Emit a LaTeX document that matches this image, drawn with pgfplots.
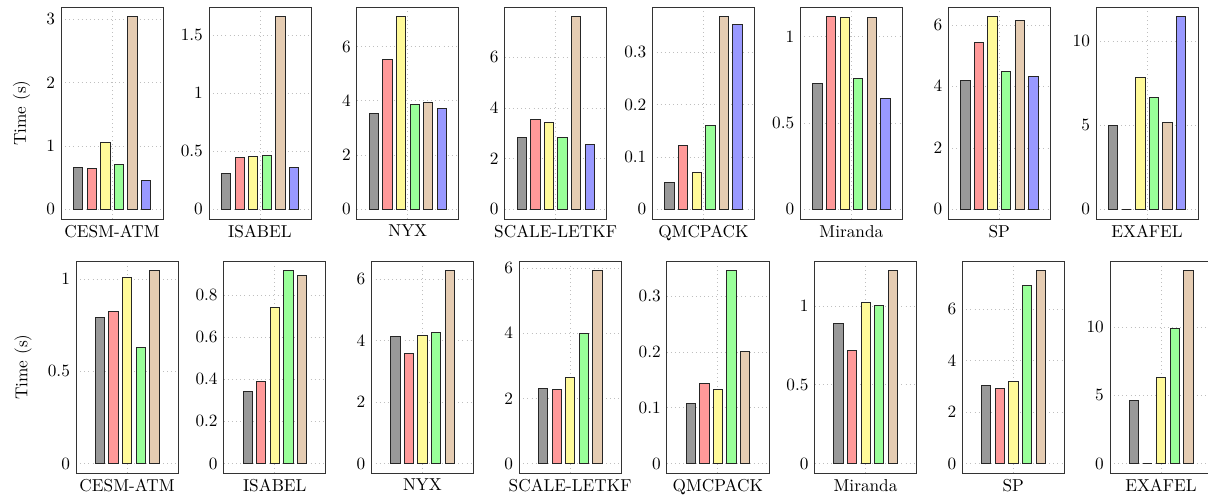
\documentclass[border=0pt]{standalone}
\usepackage{pgfplots}
\pgfplotsset{compat=1.18}
\pgfplotsset{
  panel/.style={
    scale only axis, width=59.2pt, height=123pt,
    anchor=north west,
    ybar=2.5pt, bar width=5.4pt,
    xmin=-1, xmax=1, xtick={0},
    enlargelimits=false,
    xmajorgrids, ymajorgrids,
    grid style={dotted, black!25},
    major tick length=0pt,
    axis line style={black!80},
    ylabel shift=2.5pt,
  },
}
\newcommand{\sixbars}[6]{%
  \addplot[fill=black!40, draw=black!85] coordinates {(0,#1)};
  \addplot[fill=red!40, draw=black!85] coordinates {(0,#2)};
  \addplot[fill=yellow!40, draw=black!85] coordinates {(0,#3)};
  \addplot[fill=green!40, draw=black!85] coordinates {(0,#4)};
  \addplot[fill=brown!40, draw=black!85] coordinates {(0,#5)};
  \addplot[fill=blue!40, draw=black!85] coordinates {(0,#6)};}
\newcommand{\fivebars}[5]{%
  \addplot[fill=black!40, draw=black!85] coordinates {(0,#1)};
  \addplot[fill=red!40, draw=black!85] coordinates {(0,#2)};
  \addplot[fill=yellow!40, draw=black!85] coordinates {(0,#3)};
  \addplot[fill=green!40, draw=black!85] coordinates {(0,#4)};
  \addplot[fill=brown!40, draw=black!85] coordinates {(0,#5)};}
\begin{document}
\begin{tikzpicture}
\useasboundingbox (0,0) rectangle (700.64pt,-288.84pt);
% ---------- top row ----------
\begin{axis}[panel, at={(35.38pt,-4.06pt)}, xticklabels={CESM-ATM},
  ymin=-0.152, ymax=3.192, ytick={0,1,2,3}, ylabel={Time (s)}]
\sixbars{0.671}{0.655}{1.064}{0.713}{3.04}{0.461}
\end{axis}
\begin{axis}[panel, at={(121.16pt,-4.06pt)}, xticklabels={ISABEL},
  ymin=-0.0829, ymax=1.740, ytick={0,0.5,1,1.5}]
\sixbars{0.306}{0.451}{0.457}{0.466}{1.657}{0.366}
\end{axis}
\begin{axis}[panel, at={(206.89pt,-4.06pt)}, xticklabels={NYX},
  ymin=-0.355, ymax=7.455, ytick={0,2,4,6}]
\sixbars{3.54}{5.53}{7.10}{3.88}{3.955}{3.71}
\end{axis}
\begin{axis}[panel, at={(292.67pt,-4.06pt)}, xticklabels={SCALE-LETKF},
  ymin=-0.38, ymax=7.98, ytick={0,2,4,6}]
\sixbars{2.83}{3.56}{3.42}{2.86}{7.60}{2.58}
\end{axis}
\begin{axis}[panel, at={(378.39pt,-4.06pt)}, xticklabels={QMCPACK},
  ymin=-0.0184, ymax=0.3864, ytick={0,0.1,0.2,0.3}]
\sixbars{0.052}{0.123}{0.070}{0.161}{0.368}{0.353}
\end{axis}
\begin{axis}[panel, at={(464.17pt,-4.06pt)}, xticklabels={Miranda},
  ymin=-0.0558, ymax=1.1708, ytick={0,0.5,1}]
\sixbars{0.731}{1.115}{1.112}{0.760}{1.113}{0.642}
\end{axis}
\begin{axis}[panel, at={(549.96pt,-4.06pt)}, xticklabels={SP},
  ymin=-0.3135, ymax=6.5835, ytick={0,2,4,6}]
\sixbars{4.205}{5.43}{6.27}{4.476}{6.15}{4.32}
\end{axis}
\begin{axis}[panel, at={(635.68pt,-4.06pt)}, xticklabels={EXAFEL},
  ymin=-0.573, ymax=12.033, ytick={0,5,10}]
\sixbars{5.0}{0}{7.87}{6.66}{5.20}{11.46}
\end{axis}
% ---------- bottom row ----------
\begin{axis}[panel, at={(44.08pt,-151.4pt)}, xticklabels={CESM-ATM},
  ymin=-0.0523, ymax=1.0973, ytick={0,0.5,1}, ylabel={Time (s)}]
\fivebars{0.794}{0.826}{1.007}{0.629}{1.045}
\end{axis}
\begin{axis}[panel, at={(129.75pt,-151.4pt)}, xticklabels={ISABEL},
  ymin=-0.0458, ymax=0.9618, ytick={0,0.2,0.4,0.6,0.8}]
\fivebars{0.341}{0.391}{0.740}{0.916}{0.892}
\end{axis}
\begin{axis}[panel, at={(215.41pt,-151.4pt)}, xticklabels={NYX},
  ymin=-0.3135, ymax=6.5835, ytick={0,2,4,6}]
\fivebars{4.13}{3.57}{4.16}{4.27}{6.27}
\end{axis}
\begin{axis}[panel, at={(301.08pt,-151.4pt)}, xticklabels={SCALE-LETKF},
  ymin=-0.2965, ymax=6.2265, ytick={0,2,4,6}]
\fivebars{2.30}{2.27}{2.65}{4.00}{5.93}
\end{axis}
\begin{axis}[panel, at={(386.74pt,-151.4pt)}, xticklabels={QMCPACK},
  ymin=-0.0173, ymax=0.3628, ytick={0,0.1,0.2,0.3}]
\fivebars{0.1076}{0.1434}{0.132}{0.3455}{0.2014}
\end{axis}
\begin{axis}[panel, at={(472.41pt,-151.4pt)}, xticklabels={Miranda},
  ymin=-0.0612, ymax=1.2858, ytick={0,0.5,1}]
\fivebars{0.892}{0.720}{1.021}{1.004}{1.2246}
\end{axis}
\begin{axis}[panel, at={(558.08pt,-151.4pt)}, xticklabels={SP},
  ymin=-0.3745, ymax=7.8645, ytick={0,2,4,6}]
\fivebars{3.046}{2.916}{3.19}{6.91}{7.49}
\end{axis}
\begin{axis}[panel, at={(643.74pt,-151.4pt)}, xticklabels={EXAFEL},
  ymin=-0.7085, ymax=14.8785, ytick={0,5,10}]
\fivebars{4.63}{0}{6.32}{9.90}{14.17}
\end{axis}
\end{tikzpicture}
\end{document}
